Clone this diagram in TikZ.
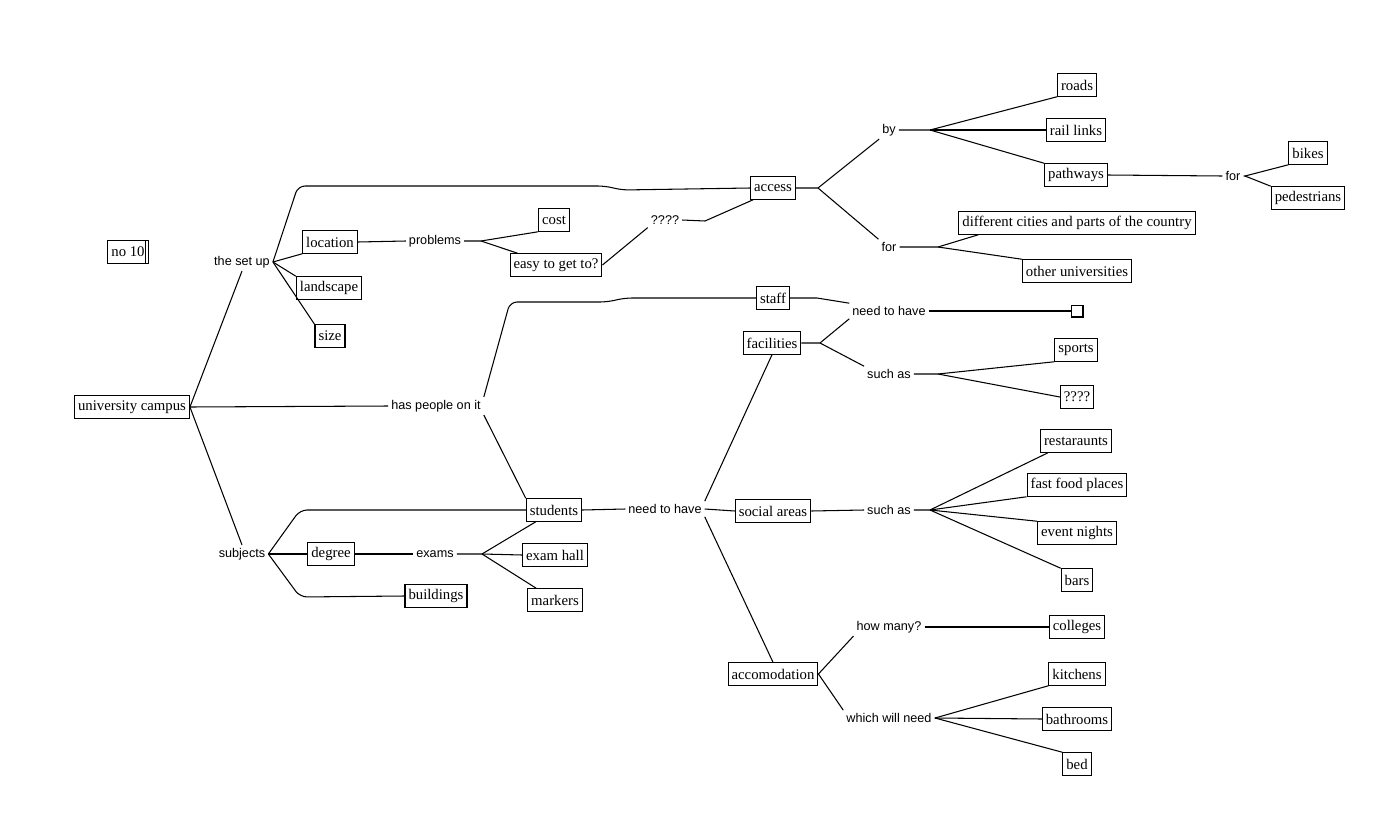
\documentclass[tikz,border=0pt]{standalone}
\usepackage{fontspec}
\setmainfont{Liberation Serif}
\newfontfamily\linkfont{Liberation Sans}
\usetikzlibrary{calc,positioning}

\begin{document}
\begin{tikzpicture}[x=0.02cm,y=-0.02cm,line width=0.6pt,
    concept/.style={draw,inner xsep=2pt,inner ysep=1pt,minimum height=12.8pt,
      font=\fontsize{8.4}{9}\selectfont},
    phrase/.style={inner sep=1.5pt,font=\linkfont\fontsize{7.2}{8}\selectfont}]
  \useasboundingbox (0,0) rectangle (1387,815);

  \node[concept] (no10) at (128,252) {no 10};
  \node[concept] (campus) at (132,407) {university campus};
  \node[phrase] (setup) at (242,262) {the set up};
  \node[concept] (location) at (330,242) {location};
  \node[concept] (landscape) at (329,288) {landscape};
  \node[concept] (size) at (330,336) {size};
  \node[phrase] (problems) at (435,241) {problems};
  \node[concept] (cost) at (554,220) {cost};
  \node[concept] (easy) at (556,265) {easy to get to?};
  \node[phrase] (unknownA) at (665,220) {????};
  \node[concept] (access) at (773,188) {access};
  \node[phrase] (by) at (889,130) {by};
  \node[concept] (roads) at (1077,85) {roads};
  \node[concept] (rail) at (1076,130) {rail links};
  \node[concept] (pathways) at (1076,175) {pathways};
  \node[phrase] (forB) at (1233,176) {for};
  \node[concept] (bikes) at (1308,153) {bikes};
  \node[concept] (pedestrians) at (1308,198) {pedestrians};
  \node[phrase] (forA) at (889,247) {for};
  \node[concept] (cities) at (1077,223) {different cities and parts of the country};
  \node[concept] (otherunis) at (1077,271) {other universities};
  \node[phrase] (haspeople) at (436,406) {has people on it};
  \node[concept] (staff) at (773,298) {staff};
  \node[phrase] (needA) at (889,311) {need to have};
  \node[draw,minimum size=6.8pt,inner sep=0pt] (blank) at (1077,311) {};
  \node[concept] (facilities) at (772,343) {facilities};
  \node[phrase] (suchA) at (889,374) {such as};
  \node[concept] (sports) at (1076,350) {sports};
  \node[concept] (unknownB) at (1077,397) {????};
  \node[phrase] (subjects) at (242,554) {subjects};
  \node[concept] (degree) at (331,554) {degree};
  \node[concept] (buildings) at (436,596) {buildings};
  \node[phrase] (exams) at (435,554) {exams};
  \node[concept] (students) at (554,510) {students};
  \node[concept] (examhall) at (555,555) {exam hall};
  \node[concept] (markers) at (555,600) {markers};
  \node[phrase] (needB) at (665,509) {need to have};
  \node[concept] (social) at (773,511) {social areas};
  \node[phrase] (suchB) at (889,510) {such as};
  \node[concept] (restaurants) at (1076,441) {restaraunts};
  \node[concept] (fastfood) at (1077,485) {fast food places};
  \node[concept] (events) at (1077,533) {event nights};
  \node[concept] (bars) at (1077,580) {bars};
  \node[concept] (accom) at (773,674) {accomodation};
  \node[phrase] (howmany) at (889,627) {how many?};
  \node[phrase] (willneed) at (889,718) {which will need};
  \node[concept] (colleges) at (1077,627) {colleges};
  \node[concept] (kitchens) at (1077,674) {kitchens};
  \node[concept] (bathrooms) at (1077,719) {bathrooms};
  \node[concept] (bed) at (1077,764) {bed};
  \draw ($(no10.north east)+(-3,0)$) -- ($(no10.south east)+(-3,0)$);

  \coordinate (fkProblems) at (481,241);
  \coordinate (fkAccess) at (818,188);
  \coordinate (fkBy) at (930,130);
  \coordinate (fkForB) at (1245,176);
  \coordinate (fkForA) at (938,247);
  \coordinate (fkFacilities) at (820,343);
  \coordinate (fkSuchA) at (938,374);
  \coordinate (fkExams) at (482,554);
  \coordinate (fkSuchB) at (930,510);
  \coordinate (fkWillNeed) at (935,718);

  \draw (campus.east) -- (setup.south);
  \draw (campus.east) -- (haspeople.west);
  \draw (campus.east) -- (subjects.north);
  \draw[rounded corners=4pt] (setup.east) -- (298,186) -- (605,186) -- (622,190) -- (access.west);
  \draw (setup.east) -- (location.south west);
  \draw (setup.east) -- (landscape.north west);
  \draw (setup.east) -- (size.north west);
  \draw (location.east) -- (problems.west);
  \draw (problems.east) -- (fkProblems) -- (cost.south west);
  \draw (fkProblems) -- ($(easy.north west)+(8,0)$);
  \draw (easy.east) -- (unknownA.south west);
  \draw (unknownA.east) -- (705,221) -- ($(access.south west)+(3,0)$);
  \draw (access.east) -- (fkAccess) -- (by.south west);
  \draw (fkAccess) -- (forA.north west);
  \draw (by.east) -- (fkBy) -- (roads.south west);
  \draw (fkBy) -- (rail.west);
  \draw (fkBy) -- (pathways.north west);
  \draw (pathways.east) -- (forB.west);
  \draw (forB.east) -- (fkForB) -- (bikes.south west);
  \draw (fkForB) -- (pedestrians.north west);
  \draw (forA.east) -- (fkForA) -- ($(cities.south west)+(20,0)$);
  \draw (fkForA) -- (otherunis.north west);
  \draw[rounded corners=4pt] (haspeople.north east) -- (510,302) -- (607,302) -- (625,298) -- (staff.west);
  \draw (haspeople.south east) -- (students.north west);
  \draw (staff.east) -- (817,298) -- (needA.north west);
  \draw (facilities.east) -- (fkFacilities) -- (needA.south west);
  \draw (fkFacilities) -- (suchA.north west);
  \draw (needA.east) -- (blank.west);
  \draw (suchA.east) -- (fkSuchA) -- (sports.south west);
  \draw (fkSuchA) -- (unknownB.west);
  \draw[rounded corners=4pt] (subjects.east) -- (300,510) -- (students.west);
  \draw (subjects.east) -- (degree.west);
  \draw[rounded corners=4pt] (subjects.east) -- (300,597) -- (buildings.west);
  \draw (degree.east) -- (exams.west);
  \draw (exams.east) -- (fkExams) -- ($(students.south west)+(10,0)$);
  \draw (fkExams) -- (examhall.west);
  \draw (fkExams) -- ($(markers.north west)+(9,0)$);
  \draw (students.east) -- (needB.west);
  \draw (needB.north east) -- (facilities.south);
  \draw (needB.east) -- (social.west);
  \draw (needB.south east) -- (accom.north);
  \draw (social.east) -- (suchB.west);
  \draw (suchB.east) -- (fkSuchB) -- ($(restaurants.south west)+(8,0)$);
  \draw (fkSuchB) -- (fastfood.south west);
  \draw (fkSuchB) -- (events.north west);
  \draw (fkSuchB) -- (bars.north west);
  \draw (accom.east) -- (howmany.south west);
  \draw (accom.east) -- (willneed.north west);
  \draw (howmany.east) -- (colleges.west);
  \draw (willneed.east) -- (fkWillNeed) -- (kitchens.south west);
  \draw (fkWillNeed) -- (bathrooms.west);
  \draw (fkWillNeed) -- (bed.north west);
\end{tikzpicture}
\end{document}
